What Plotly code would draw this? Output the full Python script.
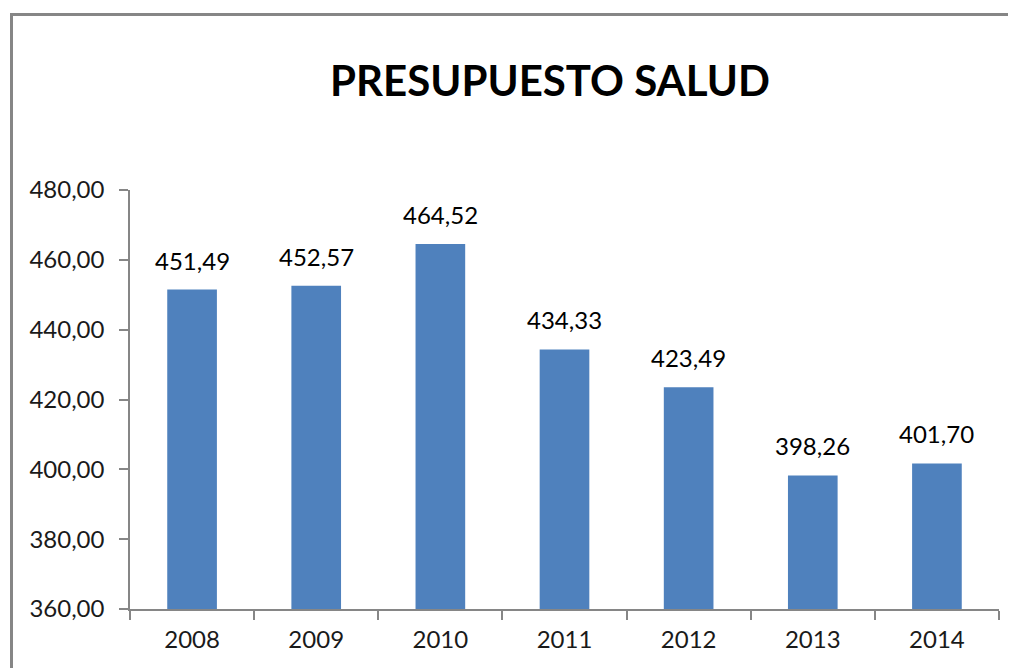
import plotly.graph_objects as go

years = ["2008", "2009", "2010", "2011", "2012", "2013", "2014"]
budget = [451.49, 452.57, 464.52, 434.33, 423.49, 398.26, 401.70]
y_ticks = [360, 380, 400, 420, 440, 460, 480]
title_text = "PRESUPUESTO SALUD"

FONT = "Lato"
BAR = "#4F81BD"
AX = "#868686"

# the page body adds an 8px margin; compensate
OFF = 8
W, H = 1016 - OFF, 668 - OFF
# plot area in reference pixels: x 130..999, y 190..609
L, R, T, B = 130 - OFF, 999 - OFF, 190 - OFF, 609 - OFF
pw, ph = R - L, B - T

def px(x):
    return (x - OFF - L) / pw

def py(y):
    return (B - (y - OFF)) / ph

fig = go.Figure()
fig.add_trace(go.Bar(
    x=years, y=budget, marker=dict(color=BAR, line=dict(width=0)),
    width=0.4, showlegend=False, hoverinfo="skip",
))

for i, v in enumerate(budget):
    fig.add_annotation(
        x=i, y=v, text=f"{v:.2f}".replace(".", ","), showarrow=False,
        yanchor="bottom", yshift=13, font=dict(family=FONT, size=24, color="#000000"),
    )

fig.update_layout(
    width=W, height=H,
    margin=dict(l=L, r=W - R, t=T, b=H - B, pad=0),
    paper_bgcolor="white", plot_bgcolor="white",
    separators=",.",
    title=dict(text=title_text, x=(550 - OFF) / W, xanchor="center", xref="container",
               y=1 - (81 - OFF) / H, yanchor="middle", yref="container",
               font=dict(family=FONT, size=42, color="#000000", weight="bold")),
    xaxis=dict(type="category", range=[-0.5, len(years) - 0.5],
               showline=True, linecolor=AX, linewidth=1.5,
               ticks="outside", tickson="boundaries", ticklen=9, tickcolor=AX,
               tickwidth=1.5, showgrid=False, zeroline=False, tickangle=0,
               ticklabelstandoff=8,
               tickfont=dict(family=FONT, size=24, color="#1a1a1a")),
    yaxis=dict(range=[360, 480], tickvals=y_ticks, tickformat=".2f",
               showline=True, linecolor=AX, linewidth=1.5,
               ticks="outside", ticklen=9, tickcolor=AX, tickwidth=1.5,
               ticklabelstandoff=10,
               showgrid=False, zeroline=False,
               tickfont=dict(family=FONT, size=24, color="#1a1a1a")),
    shapes=[
        dict(type="line", xref="paper", yref="paper",
             x0=px(11.5), x1=px(11.5), y0=py(13), y1=py(680),
             line=dict(color=AX, width=3)),
        dict(type="line", xref="paper", yref="paper",
             x0=px(10), x1=px(1030), y0=py(14.5), y1=py(14.5),
             line=dict(color=AX, width=3)),
    ],
)

fig.write_html("out.html")
